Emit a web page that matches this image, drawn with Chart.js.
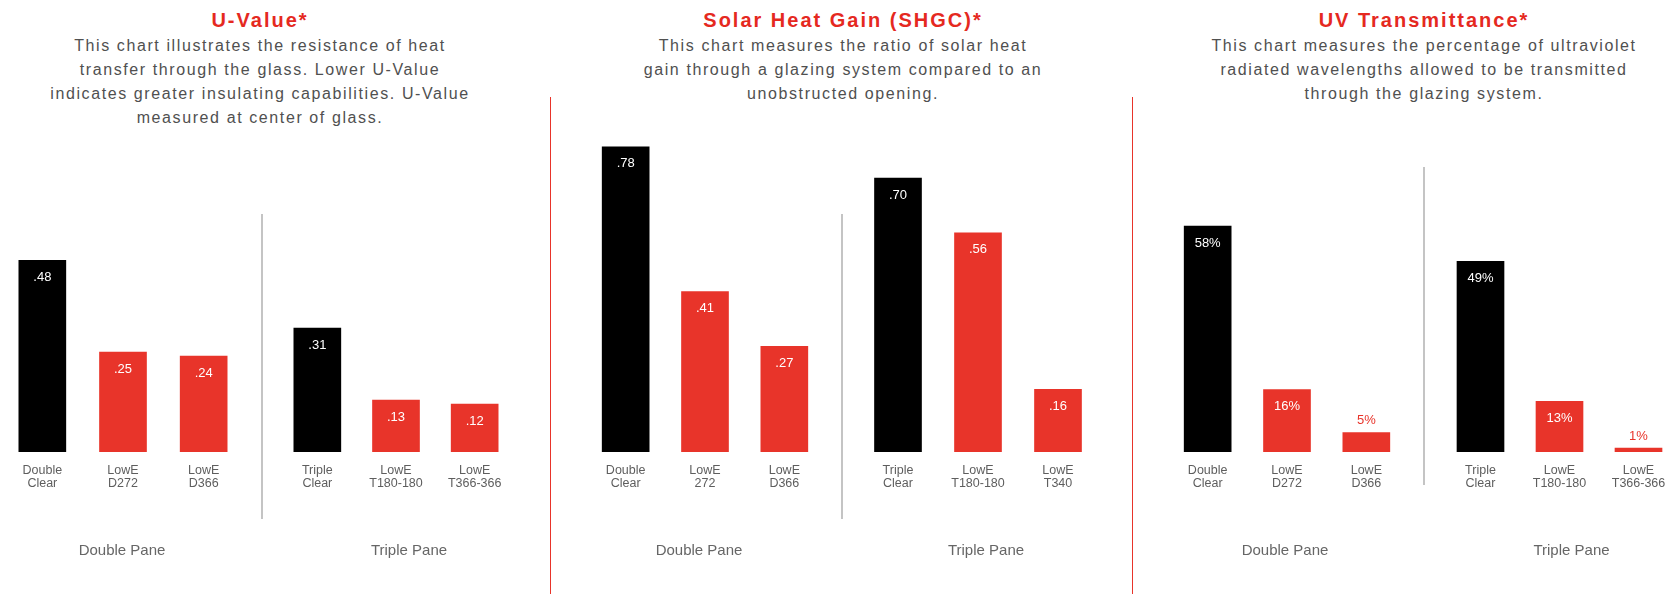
<!DOCTYPE html>
<html>
<head>
<meta charset="utf-8">
<script src="https://cdn.jsdelivr.net/npm/chart.js@4.4.1/dist/chart.umd.min.js"></script>
<style>
  html, body { margin:0; padding:0; background:#fff; width:1678px; height:594px; overflow:hidden; }
  body { position:relative; font-family:'Liberation Sans', Arial, sans-serif; }
  .title { position:absolute; top:8px; width:600px; margin-left:-300px; text-align:center; white-space:nowrap;
           font-weight:bold; font-size:20px; line-height:24px; letter-spacing:2px; color:#e5291f; }
  .desc { position:absolute; top:34px; width:640px; margin-left:-320px; text-align:center; white-space:nowrap;
          font-size:16px; line-height:24px; letter-spacing:1.6px; color:#505050; }
  .vline { position:absolute; }
  canvas { position:absolute; top:130px; }
</style>
</head>
<body>
<script>
// ---------- data ----------
const uDoubleCategories = [['Double','Clear'], ['LowE','D272'], ['LowE','D366']];
const uTripleCategories = [['Triple','Clear'], ['LowE','T180-180'], ['LowE','T366-366']];
const uDoubleValues = [0.48, 0.25, 0.24];
const uTripleValues = [0.31, 0.13, 0.12];

const shgcDoubleCategories = [['Double','Clear'], ['LowE','272'], ['LowE','D366']];
const shgcTripleCategories = [['Triple','Clear'], ['LowE','T180-180'], ['LowE','T340']];
const shgcDoubleValues = [0.78, 0.41, 0.27];
const shgcTripleValues = [0.70, 0.56, 0.16];

const uvDoubleCategories = [['Double','Clear'], ['LowE','D272'], ['LowE','D366']];
const uvTripleCategories = [['Triple','Clear'], ['LowE','T180-180'], ['LowE','T366-366']];
const uvDoubleValues = [58, 16, 5];
const uvTripleValues = [49, 13, 1];

const groupLabels = ['Double Pane', 'Triple Pane'];

const panelTitles = ['U-Value*', 'Solar Heat Gain (SHGC)*', 'UV Transmittance*'];
const panelDescriptions = [
  ['This chart illustrates the resistance of heat', 'transfer through the glass. Lower U-Value',
   'indicates greater insulating capabilities. U-Value', 'measured at center of glass.'],
  ['This chart measures the ratio of solar heat', 'gain through a glazing system compared to an',
   'unobstructed opening.'],
  ['This chart measures the percentage of ultraviolet', 'radiated wavelengths allowed to be transmitted',
   'through the glazing system.']
];

// ---------- styles / layout ----------
const RED = '#e8342a';
const BLACK = '#000000';
const barColors = [BLACK, RED, RED];
const FONT = "'Liberation Sans', Arial, sans-serif";
Chart.defaults.font.family = FONT;

const titleCenters = [260, 843, 1424];
panelTitles.forEach((t, i) => {
  const d = document.createElement('div');
  d.className = 'title'; d.style.left = titleCenters[i] + 'px'; d.textContent = t;
  document.body.appendChild(d);
  const s = document.createElement('div');
  s.className = 'desc'; s.style.left = titleCenters[i] + 'px';
  panelDescriptions[i].forEach((line, k) => {
    if (k) s.appendChild(document.createElement('br'));
    s.appendChild(document.createTextNode(line));
  });
  document.body.appendChild(s);
});

function vline(x, y1, y2, color, w) {
  const d = document.createElement('div');
  d.className = 'vline';
  d.style.cssText = `left:${x}px;top:${y1}px;height:${y2 - y1}px;width:${w}px;background:${color};`;
  document.body.appendChild(d);
}
vline(550, 97, 594, RED, 1);
vline(1132, 97, 594, RED, 1);
vline(261, 214, 519, '#c4c4c4', 1.5);
vline(841, 214, 519, '#c4c4c4', 1.5);
vline(1423, 167, 485, '#c4c4c4', 1.5);

const valueLabelPlugin = {
  id: 'valueLabels',
  afterDatasetsDraw(chart, args, opts) {
    const ctx = chart.ctx;
    const ds = chart.data.datasets[0];
    const meta = chart.getDatasetMeta(0);
    ctx.save();
    ctx.font = '13px ' + FONT;
    ctx.textAlign = 'center';
    ctx.textBaseline = 'middle';
    meta.data.forEach((bar, i) => {
      const txt = opts.format(ds.data[i]);
      const h = bar.base - bar.y;
      if (h >= 30) {
        ctx.fillStyle = '#ffffff';
        ctx.fillText(txt, bar.x, bar.y + 17);
      } else {
        ctx.fillStyle = RED;
        ctx.fillText(txt, bar.x, bar.y - 12);
      }
    });
    ctx.restore();
  }
};

// Draws the x-axis title (group label) with a small horizontal shift
const groupLabelPlugin = {
  id: 'groupLabel',
  afterDraw(chart, args, opts) {
    const sc = chart.scales.x;
    const t = sc.options.title;
    const ctx = chart.ctx;
    ctx.save();
    ctx.font = '15px ' + FONT;
    ctx.fillStyle = '#666';
    ctx.textAlign = 'center';
    ctx.textBaseline = 'middle';
    ctx.fillText(t.text, (sc.left + sc.right) / 2 + opts.shift, sc.bottom - 9);
    ctx.restore();
  }
};

const fmtDecimal = v => v.toFixed(2).replace(/^0/, '');
const fmtPercent = v => v + '%';

function makeChart(left, width, categories, values, groupLabel, yMax, fmt, shift) {
  const c = document.createElement('canvas');
  c.width = width; c.height = 430;
  c.style.left = left + 'px';
  c.style.width = width + 'px'; c.style.height = '430px';
  document.body.appendChild(c);
  new Chart(c, {
    type: 'bar',
    data: {
      labels: categories,
      datasets: [{ data: values, backgroundColor: barColors, borderWidth: 0, barThickness: 47 }]
    },
    options: {
      responsive: false,
      animation: false,
      devicePixelRatio: 1,
      layout: { padding: 0 },
      plugins: { legend: { display: false }, tooltip: { enabled: false },
                 valueLabels: { format: fmt }, groupLabel: { shift: shift } },
      scales: {
        x: {
          grid: { display: false, drawTicks: false },
          border: { display: false },
          ticks: { color: '#5e5e5e', font: { size: 12.5, lineHeight: 1.04 }, padding: 12, maxRotation: 0, autoSkip: false },
          title: { display: true, text: groupLabel, color: 'rgba(0,0,0,0)', font: { size: 15, lineHeight: 1.2 },
                   padding: { top: 40, bottom: 0 } }
        },
        y: { display: false, min: 0, max: yMax }
      }
    },
    plugins: [valueLabelPlugin, groupLabelPlugin]
  });
}

makeChart(2, 242, uDoubleCategories, uDoubleValues, groupLabels[0], 0.806, fmtDecimal, -1);
makeChart(278, 236, uTripleCategories, uTripleValues, groupLabels[1], 0.806, fmtDecimal, 13);
makeChart(586, 238, shgcDoubleCategories, shgcDoubleValues, groupLabels[0], 0.823, fmtDecimal, -6);
makeChart(858, 240, shgcTripleCategories, shgcTripleValues, groupLabels[1], 0.823, fmtDecimal, 8);
makeChart(1168, 238, uvDoubleCategories, uvDoubleValues, groupLabels[0], 82.7, fmtPercent, -2);
makeChart(1441, 237, uvTripleCategories, uvTripleValues, groupLabels[1], 82.7, fmtPercent, 12);
</script>
</body>
</html>
